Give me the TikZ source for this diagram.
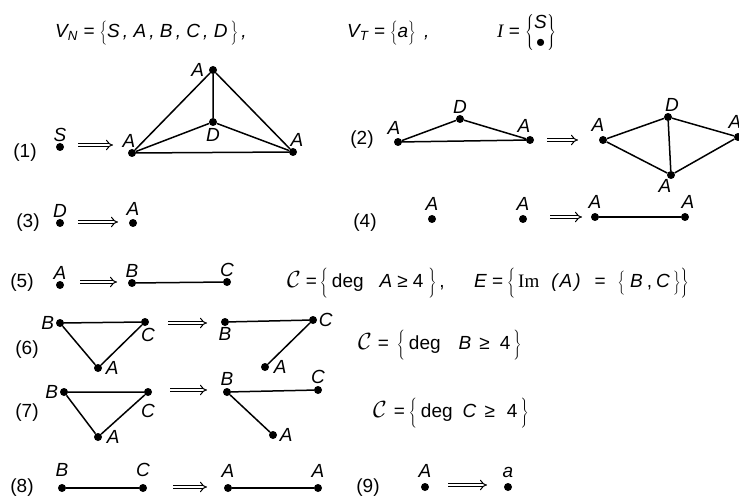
\documentclass[tikz,border=0pt]{standalone}
\usepackage{fontspec}
\usepackage{graphicx}
\setmainfont{Liberation Sans}
\newfontfamily\seriffam{Liberation Serif}
\usetikzlibrary{arrows.meta}
% a set in tall braces: depth, height, contents
\newcommand{\brset}[3]{$\left\{\rule[-#1]{0pt}{#2}\hbox{#3}\right\}$}
\newcommand{\cset}{\scalebox{1.35}{$\mathcal{C}$}}
\newcommand{\gp}[1]{\hspace{#1pt}}

\begin{document}
\begin{tikzpicture}[x=1pt, y=-1pt, font=\fontsize{19}{22}\selectfont, label distance=1pt]
  \tikzstyle{vtx} = [circle, fill=black, inner sep=0pt, minimum size=8pt]
  \tikzstyle{lbl} = [font=\fontsize{19}{22}\selectfont\itshape, inner sep=0.5pt,
                     text height=13pt, text depth=0pt]
  \tikzstyle{link} = [line width=1.5pt]
  \tikzstyle{imp} = [double, line width=1pt, double distance=2.6pt, -{Implies}]
  \tikzstyle{num} = [inner sep=0pt]
  \tikzstyle{cond} = [anchor=west, inner sep=0pt]

  \useasboundingbox (0,0) rectangle (739,497);

  % alphabets and start graph
  \node[cond] (hdrN) at (55,33) {\itshape V\textsubscript{N} = \brset{6pt}{21pt}{S\,, A\,, B\,, C\,, D\,}\,,};
  \node[cond] (hdrT) at (347,33) {\itshape V\textsubscript{T} = \brset{6pt}{21pt}{a} \,,};
  \node[cond] (hdrI) at (497,33) {{\seriffam\itshape I} = $\left\{\vcenter{\hbox to 13pt{\hss\itshape S\hss}\kern1pt
      \hbox to 13pt{\hss\fontsize{26}{26}\selectfont\textbullet\hss}}\right\}$};

  % (1)
  \node[num] (n1) at (25,153) {(1)};
  \node[vtx, label={[lbl]above:S}] (s1) at (60,147) {};
  \coordinate (i1a) at (78,145); \coordinate (i1b) at (113,145);
  \draw[imp] (i1a) -- (i1b);
  \node[vtx, label={[lbl, xshift=-3pt]above:A}] (a1l) at (132,153) {};
  \node[vtx, label={[lbl, xshift=-3pt]left:A}] (a1t) at (213,70) {};
  \node[vtx, label={[lbl, yshift=-1pt]below:D}] (d1) at (213,122) {};
  \node[vtx, label={[lbl, xshift=4pt]above:A}] (a1r) at (293,152) {};
  \draw[link] (a1l) -- (a1t) -- (a1r) -- (a1l) -- (d1) -- (a1t);
  \draw[link] (d1) -- (a1r);

  % (2)
  \node[num] (n2) at (362,140) {(2)};
  \node[vtx, label={[lbl, xshift=-4pt, yshift=2pt]above:A}] (a2l) at (398,142) {};
  \node[vtx, label={[lbl]above:D}] (d2) at (460,119) {};
  \node[vtx, label={[lbl, xshift=-6pt, yshift=2pt]above:A}] (a2r) at (530,140) {};
  \draw[link] (a2l) -- (d2) -- (a2r) -- (a2l);
  \coordinate (i2a) at (547,140); \coordinate (i2b) at (578,140);
  \draw[imp] (i2a) -- (i2b);
  \node[vtx, label={[lbl, xshift=-5pt, yshift=3pt]above:A}] (b2l) at (603,140) {};
  \node[vtx, label={[lbl, xshift=4pt]above:D}] (b2t) at (668,117) {};
  \node[vtx, label={[lbl, xshift=-6pt, yshift=1pt]below:A}] (b2b) at (671,175) {};
  \node[vtx, label={[lbl, xshift=-3pt, yshift=3pt]above:A}] (b2r) at (738,137) {};
  \draw[link] (b2l) -- (b2t) -- (b2r) -- (b2b) -- (b2l);
  \draw[link] (b2t) -- (b2b);

  % (3)
  \node[num] (n3) at (28,223) {(3)};
  \node[vtx, label={[lbl]above:D}] (d3) at (60,223) {};
  \coordinate (i3a) at (78,222); \coordinate (i3b) at (118,222);
  \draw[imp] (i3a) -- (i3b);
  \node[vtx, label={[lbl, yshift=2pt]above:A}] (a3) at (133,223) {};

  % (4)
  \node[num] (n4) at (365,223) {(4)};
  \node[vtx, label={[lbl, yshift=3pt]above:A}] (a4) at (432,219) {};
  \node[vtx, label={[lbl, yshift=3pt]above:A}] (b4) at (523,219) {};
  \coordinate (i4a) at (550,217); \coordinate (i4b) at (582,217);
  \draw[imp] (i4a) -- (i4b);
  \node[vtx, label={[lbl, yshift=3pt]above:A}] (c4l) at (595,217) {};
  \node[vtx, label={[lbl, xshift=3pt, yshift=3pt]above:A}] (c4r) at (685,217) {};
  \draw[link] (c4l) -- (c4r);

  % (5)
  \node[num] (n5) at (22,283) {(5)};
  \node[vtx, label={[lbl]above:A}] (a5) at (60,285) {};
  \coordinate (i5a) at (80,282); \coordinate (i5b) at (117,282);
  \draw[imp] (i5a) -- (i5b);
  \node[vtx, label={[lbl]above:B}] (b5) at (132,283) {};
  \node[vtx, label={[lbl]above:C}] (c5) at (227,282) {};
  \draw[link] (b5) -- (c5);
  \node[cond] (cnd5) at (287,283) {\cset\gp{5}=\gp{3}\brset{9pt}{28pt}{\gp{4}deg\gp{16}\textit{A}\gp{5}≥\gp{5}4\gp{5}}\gp{3},};
  \node[cond] (emb5) at (474,283) {\textit{E}\gp{5}=\gp{4}\brset{9pt}{28pt}{\gp{3}{\seriffam Im}\gp{12}\textit{(\gp{2}A\gp{2})}\gp{14}=\gp{12}\brset{6pt}{21pt}{\gp{5}\textit{B}\gp{4},\gp{4}\textit{C}\gp{3}}}};

  % (6)
  \node[num] (n6) at (27,350) {(6)};
  \node[vtx, label={[lbl]left:B}] (b6) at (60,323) {};
  \node[vtx, label={[lbl, xshift=3pt, yshift=-1pt]below:C}] (c6) at (145,322) {};
  \node[vtx, label={[lbl, xshift=2pt]right:A}] (a6) at (98,368) {};
  \draw[link] (b6) -- (c6) -- (a6) -- (b6);
  \coordinate (i6a) at (168,323); \coordinate (i6b) at (207,323);
  \draw[imp] (i6a) -- (i6b);
  \node[vtx, label={[lbl]below:B}] (b6r) at (225,322) {};
  \node[vtx, label={[lbl]right:C}] (c6r) at (313,320) {};
  \node[vtx, label={[lbl, xshift=3pt]right:A}] (a6r) at (265,367) {};
  \draw[link] (b6r) -- (c6r) -- (a6r);
  \node[cond] (cnd6) at (358,345) {\cset\gp{6}=\gp{8}\brset{9pt}{28pt}{\gp{4}deg\gp{18}\textit{B}\gp{8}≥\gp{10}4\gp{3}}};

  % (7)
  \node[num] (n7) at (27,413) {(7)};
  \node[vtx, label={[lbl]left:B}] (b7) at (64,392) {};
  \node[vtx, label={[lbl, yshift=-7pt]below:C}] (c7) at (148,392) {};
  \node[vtx, label={[lbl, xshift=3pt]right:A}] (a7) at (98,437) {};
  \draw[link] (b7) -- (c7) -- (a7) -- (b7);
  \coordinate (i7a) at (170,390); \coordinate (i7b) at (207,390);
  \draw[imp] (i7a) -- (i7b);
  \node[vtx, label={[lbl, yshift=1pt]above:B}] (b7r) at (227,392) {};
  \node[vtx, label={[lbl, yshift=1pt]above:C}] (c7r) at (318,390) {};
  \node[vtx, label={[lbl, xshift=1pt]right:A}] (a7r) at (273,435) {};
  \draw[link] (c7r) -- (b7r) -- (a7r);
  \node[cond] (cnd7) at (373,413) {\cset\gp{7}=\gp{4}\brset{9pt}{28pt}{\gp{4}deg\gp{10}\textit{C}\gp{8}≥\gp{12}4\gp{3}}};

  % (8)
  \node[num] (n8) at (22,488) {(8)};
  \node[vtx, label={[lbl, yshift=6pt]above:B}] (b8) at (62,488) {};
  \node[vtx, label={[lbl, yshift=6pt]above:C}] (c8) at (143,488) {};
  \draw[link] (b8) -- (c8);
  \coordinate (i8a) at (173,487); \coordinate (i8b) at (207,487);
  \draw[imp] (i8a) -- (i8b);
  \node[vtx, label={[lbl, yshift=5pt]above:A}] (a8l) at (228,488) {};
  \node[vtx, label={[lbl, yshift=5pt]above:A}] (a8r) at (318,488) {};
  \draw[link] (a8l) -- (a8r);

  % (9)
  \node[num] (n9) at (368,488) {(9)};
  \node[vtx, label={[lbl, yshift=4pt]above:A}] (a9) at (425,487) {};
  \coordinate (i9a) at (448,485); \coordinate (i9b) at (487,485);
  \draw[imp] (i9a) -- (i9b);
  \node[vtx, label={[lbl, yshift=4pt]above:a}] (t9) at (508,487) {};
\end{tikzpicture}
\end{document}
